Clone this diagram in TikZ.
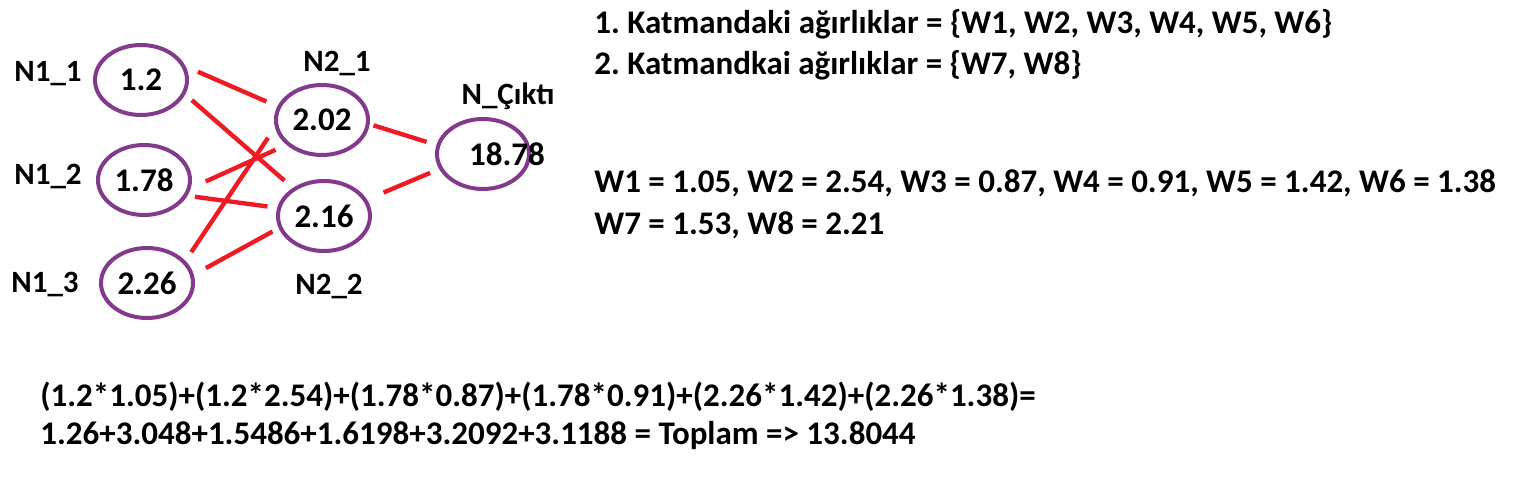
\documentclass[tikz,border=0pt]{standalone}
\usepackage{fontspec}
\setmainfont{Carlito}
\usepackage{tikz}
\usetikzlibrary{shapes.geometric, positioning}
\definecolor{neuronpurple}{RGB}{131,58,140}
\definecolor{wirered}{RGB}{237,28,36}
\frenchspacing

\begin{document}
\begin{tikzpicture}[x=0.5pt, y=-0.5pt,
    neuron/.style={ellipse, draw=neuronpurple, line width=2pt, minimum width=46pt, minimum height=35pt, inner sep=0pt, font=\fontsize{16.5}{19}\selectfont\bfseries},
    nlabel/.style={anchor=base, font=\fontsize{15.5}{18}\selectfont\bfseries},
    info/.style={anchor=base west, inner sep=0pt, font=\fontsize{16.5}{19}\selectfont\bfseries},
    wire/.style={draw=wirered, line width=2.2pt}]
  \useasboundingbox (0,0) rectangle (1514,501);

  % neurons
  \node[neuron] (n11) at (141,80) {1.2};
  \node[neuron] (n12) at (144,180) {1.78};
  \node[neuron] (n13) at (147,283) {2.26};
  \node[neuron] (n21) at (322,120) {2.02};
  \node[neuron] (n22) at (324,216) {2.16};
  \node[neuron, label={[name=outval, xshift=12pt, font=\fontsize{16.5}{19}\selectfont\bfseries]center:18.78}] (out) at (483,154) {};

  % names
  \node[nlabel] (l11) at (48,82) {N1\_1};
  \node[nlabel] (l12) at (48,185) {N1\_2};
  \node[nlabel] (l13) at (45,293) {N1\_3};
  \node[nlabel] (l21) at (337,72) {N2\_1};
  \node[nlabel] (l22) at (329,295) {N2\_2};
  \node[nlabel] (lout) at (508,105) {N\_Çıktı};

  % weights
  \draw[wire, shorten <=6.7pt, shorten >=6pt] (n11.17) -- (n21.163);
  \draw[wire, shorten <=4.4pt, shorten >=5.5pt] (n11.-18) -- (n22.138);
  \draw[wire, shorten <=8.2pt, shorten >=6pt] (n12.-10) -- (n21.215);
  \draw[wire, shorten <=3.8pt, shorten >=4.9pt] (n12.-20) -- (n22.170);
  \draw[wire, shorten <=5.2pt, shorten >=6.2pt] (n13.30) -- (n21.189);
  \draw[wire, shorten <=6.9pt, shorten >=3.5pt] (n13.10) -- (n22.195);
  \draw[wire, shorten <=2pt, shorten >=5.2pt] (n21.-5) -- (out.169);
  \draw[wire, shorten <=9pt, shorten >=4.9pt] (n22.21) -- (out.199);

  % text
  \node[info] (t1) at (594,34) {1. Katmandaki ağırlıklar = \{W1, W2, W3, W4, W5, W6\}};
  \node[info] (t2) at (594,75) {2. Katmandkai ağırlıklar = \{W7, W8\}};
  \node[info] (t3) at (594,193) {W1 = 1.05, W2 = 2.54, W3 = 0.87, W4 = 0.91, W5 = 1.42, W6 = 1.38};
  \node[info] (t4) at (594,235) {W7 = 1.53, W8 = 2.21};
  \node[info] (t5) at (40,407) {(1.2*1.05)+(1.2*2.54)+(1.78*0.87)+(1.78*0.91)+(2.26*1.42)+(2.26*1.38)=};
  \node[info] (t6) at (40,445) {1.26+3.048+1.5486+1.6198+3.2092+3.1188 = Toplam => 13.8044};
\end{tikzpicture}
\end{document}
